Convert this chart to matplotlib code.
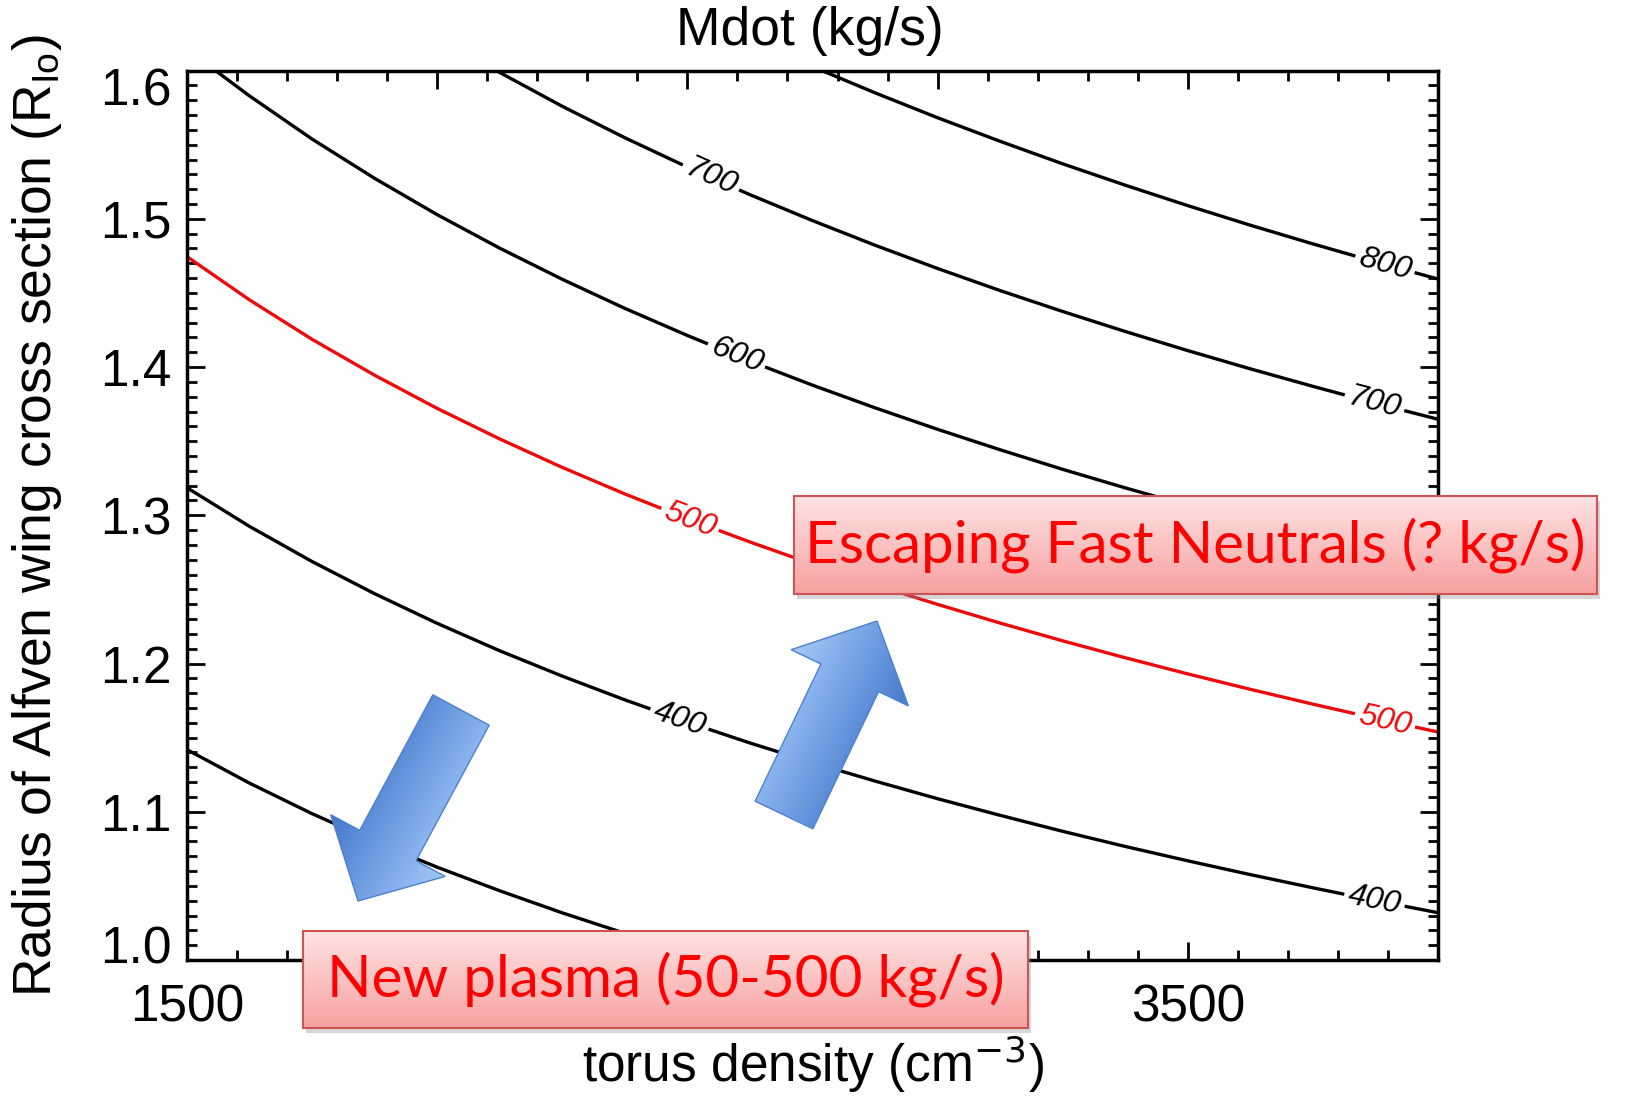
import numpy as np
import matplotlib.pyplot as plt
from matplotlib.patches import Polygon, Rectangle
from matplotlib.ticker import FixedLocator, MultipleLocator
from matplotlib.transforms import ScaledTranslation

plt.rcParams['font.family'] = ['Liberation Sans', 'DejaVu Sans']

# contour lines of Mdot (kg/s): torus density (cm^-3) vs radius (R_Io)
n300 = [1500, 1625, 1750, 1875, 2000, 2125, 2250, 2375, 2500, 2550]
r300 = [1.1419, 1.1193, 1.0987, 1.0799, 1.0626, 1.0467, 1.0318, 1.0180, 1.0050, 1.0000]

dens = [1500, 1625, 1750, 1875, 2000, 2125, 2250, 2375, 2500, 2625, 2750,
        2875, 3000, 3125, 3250, 3375, 3500, 3625, 3750, 3875, 4000]
r400 = [1.3186, 1.2925, 1.2688, 1.2471, 1.2271, 1.2086, 1.1915, 1.1755, 1.1605, 1.1464, 1.1332,
        1.1207, 1.1088, 1.0976, 1.0868, 1.0766, 1.0669, 1.0576, 1.0487, 1.0401, 1.0319]
r500 = [1.4745, 1.4453, 1.4187, 1.3945, 1.3721, 1.3515, 1.3323, 1.3144, 1.2977, 1.2820, 1.2671,
        1.2531, 1.2399, 1.2273, 1.2153, 1.2039, 1.1930, 1.1826, 1.1726, 1.1630, 1.1538]

n600 = [1557, 1625, 1750, 1875, 2000, 2125, 2250, 2375, 2500, 2625, 2750,
        2875, 3000, 3125, 3250, 3375, 3500, 3625, 3750, 3875, 4000]
r600 = [1.6000, 1.5829, 1.5538, 1.5273, 1.5028, 1.4802, 1.4592, 1.4396, 1.4213, 1.4040, 1.3878,
        1.3725, 1.3580, 1.3442, 1.3310, 1.3185, 1.3066, 1.2952, 1.2843, 1.2738, 1.2637]

n700 = [2118, 2250, 2375, 2500, 2625, 2750, 2875, 3000, 3125, 3250, 3375, 3500, 3625, 3750, 3875, 4000]
r700 = [1.6000, 1.5759, 1.5547, 1.5349, 1.5163, 1.4988, 1.4822, 1.4665, 1.4516, 1.4375, 1.4240,
        1.4111, 1.3988, 1.3870, 1.3756, 1.3648]

n800 = [2769, 2875, 3000, 3125, 3250, 3375, 3500, 3625, 3750, 3875, 4000]
r800 = [1.6000, 1.5850, 1.5682, 1.5523, 1.5371, 1.5227, 1.5089, 1.4957, 1.4831, 1.4710, 1.4594]

levels = [300, 400, 500, 600, 700, 800]
curves = {300: (n300, r300), 400: (dens, r400), 500: (dens, r500),
          600: (n600, r600), 700: (n700, r700), 800: (n800, r800)}

# contour labels: level and density where the label sits
label_levels = [700, 800, 600, 700, 500, 500, 400, 400]
label_dens = [2547, 3894, 2598, 3873, 2505, 3894, 2484, 3873]

xticks = [1500, 2000, 2500, 3000, 3500]
yticks = [1.0, 1.1, 1.2, 1.3, 1.4, 1.5, 1.6]

W, H = 1628, 1098
fig = plt.figure(figsize=(W/100, H/100), dpi=100)
ax = fig.add_axes([187/W, 1-960/H, (1438-187)/W, (960-70.6)/H])

red = (0.93, 0.04, 0.04)
for lev in levels:
    n, r = curves[lev]
    col = red if lev == 500 else 'black'
    ax.plot(n, r, color=col, lw=2.4, zorder=2, solid_capstyle='butt')

ax.set_xlim(1500, 4000)
ax.set_ylim(1.0, 1.6)

# labels along lines, rotated with the local slope
for lev, nl in zip(label_levels, label_dens):
    n, r = curves[lev]
    rl = np.interp(nl, n, r)
    p0 = ax.transData.transform((nl-60, np.interp(nl-60, n, r)))
    p1 = ax.transData.transform((nl+60, np.interp(nl+60, n, r)))
    ang = np.degrees(np.arctan2(p1[1]-p0[1], p1[0]-p0[0]))
    col = red if lev == 500 else 'black'
    ax.text(nl, rl, str(lev), rotation=ang, rotation_mode='anchor', ha='center', va='center',
            fontsize=23, style='italic', color=col, zorder=3,
            bbox=dict(fc='white', ec='none', pad=3))

ax.xaxis.set_major_locator(FixedLocator(xticks))
ax.xaxis.set_minor_locator(MultipleLocator(100))
ax.yaxis.set_major_locator(FixedLocator(yticks))
ax.yaxis.set_minor_locator(MultipleLocator(0.01))
ax.set_yticklabels(['%.1f' % v for v in yticks])
ax.tick_params(which='both', direction='in', top=True, right=True, width=2, labelsize=37)
ax.tick_params(which='major', length=13)
ax.tick_params(which='minor', length=7)
ax.tick_params(axis='x', pad=17)
ax.tick_params(axis='y', pad=11)
for s in ax.spines.values():
    s.set_linewidth(2.5)

# end labels on y axis sit a bit inside
yt = ax.yaxis.get_major_ticks()
yt[0].label1.set_transform(yt[0].label1.get_transform() + ScaledTranslation(0, 0.16, fig.dpi_scale_trans))
yt[-1].label1.set_transform(yt[-1].label1.get_transform() + ScaledTranslation(0, -0.16, fig.dpi_scale_trans))

ax.set_xlabel('torus density (cm$^{-3}$)', fontsize=37, va='center')
ax.xaxis.set_label_coords(0.5, (960-1064)/889.4)
ax.set_ylabel('Radius of Alfven wing cross section (R$_{\\mathregular{Io}}$)', fontsize=38.5, va='center')
ax.yaxis.set_label_coords((37-187)/1251, 0.5)
fig.text(810/W, 1-31/H, 'Mdot (kg/s)', fontsize=38.5, ha='center', va='center')

# overlay in pixel coordinates for the annotation shapes
ov = fig.add_axes([0, 0, 1, 1], zorder=5)
ov.set_xlim(0, W)
ov.set_ylim(H, 0)
ov.axis('off')
ov.patch.set_alpha(0)


def grad_fill(pts, c_start, c_end, g, edge, lw):
    poly = Polygon(pts, closed=True, fc='none', ec=edge, lw=lw, zorder=3)
    ov.add_patch(poly)
    x0, x1 = pts[:, 0].min(), pts[:, 0].max()
    y0, y1 = pts[:, 1].min(), pts[:, 1].max()
    X, Y = np.meshgrid(np.linspace(x0, x1, 300), np.linspace(y0, y1, 300))
    proj = X*g[0] + Y*g[1]
    pv = pts[:, 0]*g[0] + pts[:, 1]*g[1]
    t = np.clip((proj - pv.min())/(pv.max() - pv.min()), 0, 1)
    img = (1-t)[..., None]*np.array(c_start) + t[..., None]*np.array(c_end)
    im = ov.imshow(img, extent=(x0, x1, y1, y0), origin='upper', aspect='auto', zorder=2)
    im.set_clip_path(poly)


def block_arrow(tail, tip, shaft_w, head_w, head_len):
    tail = np.array(tail, float)
    tip = np.array(tip, float)
    d = tip - tail
    u = d/np.hypot(*d)
    p = np.array([-u[1], u[0]])
    base = tip - head_len*u
    pts = [tail + p*shaft_w/2, base + p*shaft_w/2, base + p*head_w/2, tip,
           base - p*head_w/2, base - p*shaft_w/2, tail - p*shaft_w/2]
    return np.array(pts), p


blue_dark = (0.27, 0.47, 0.80)
blue_light = (0.64, 0.79, 0.98)
for tail, tip in [((461, 710), (358, 901)), ((784, 815), (877, 621))]:
    pts, p = block_arrow(tail, tip, 64, 130, 63)
    grad_fill(pts, blue_light, blue_dark, p, (0.30, 0.50, 0.80), 1.0)


def text_box(x0, y0, x1, y1, txt, fs):
    ov.add_patch(Rectangle((x0+3, y0+5), x1-x0, y1-y0, fc='0.55', ec='none', alpha=0.35, zorder=1))
    pts = np.array([[x0, y0], [x1, y0], [x1, y1], [x0, y1]], float)
    grad_fill(pts, (1.0, 0.89, 0.89), (0.97, 0.63, 0.63), (0, 1), (0.80, 0.33, 0.33), 1.5)
    ov.text((x0+x1)/2, (y0+y1)/2, txt, ha='center', va='center', fontsize=fs,
            color=(1.0, 0.0, 0.0), family=['Lato', 'DejaVu Sans'], zorder=4)


text_box(794, 496, 1597, 594, 'Escaping Fast Neutrals (? kg/s)', 42)
text_box(303, 931, 1028, 1028, 'New plasma (50-500 kg/s)', 42)

fig.savefig('out.png', dpi=100)
